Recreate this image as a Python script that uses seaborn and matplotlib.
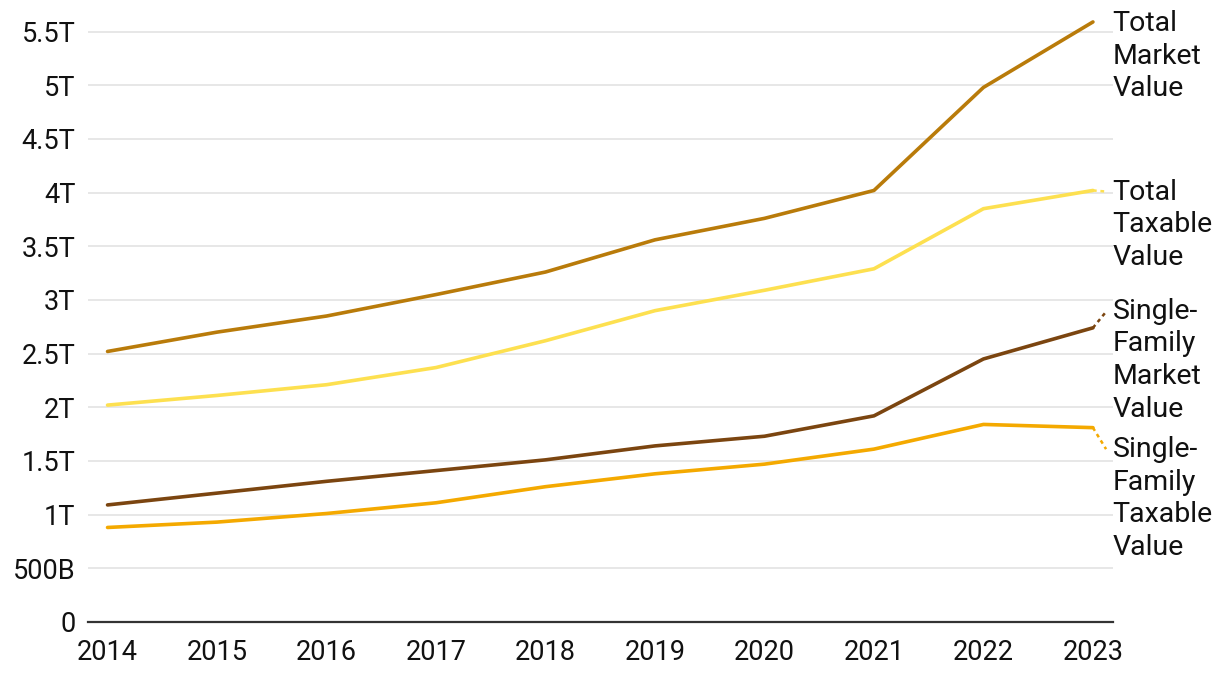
import numpy as np
import pandas as pd
import matplotlib
matplotlib.use("Agg")
import matplotlib.pyplot as plt
import seaborn as sns

# Data (trillions of dollars)
years = [2014, 2015, 2016, 2017, 2018, 2019, 2020, 2021, 2022, 2023]
total_market = [2.52, 2.70, 2.85, 3.05, 3.26, 3.56, 3.76, 4.02, 4.98, 5.59]
total_taxable = [2.02, 2.11, 2.21, 2.37, 2.62, 2.90, 3.09, 3.29, 3.85, 4.02]
sf_market = [1.09, 1.20, 1.31, 1.41, 1.51, 1.64, 1.73, 1.92, 2.45, 2.74]
sf_taxable = [0.88, 0.93, 1.01, 1.11, 1.26, 1.38, 1.47, 1.61, 1.84, 1.81]

series_names = ["Total Market Value", "Total Taxable Value",
                "Single-Family Market Value", "Single-Family Taxable Value"]
label_texts = ["Total\nMarket\nValue", "Total\nTaxable\nValue",
               "Single-\nFamily\nMarket\nValue", "Single-\nFamily\nTaxable\nValue"]
colors = ["#b97b0a", "#fde050", "#7b4510", "#f4a900"]

yticks = [0, 0.5, 1, 1.5, 2, 2.5, 3, 3.5, 4, 4.5, 5, 5.5]
ytick_labels = ["0", "500B", "1T", "1.5T", "2T", "2.5T", "3T", "3.5T", "4T", "4.5T", "5T", "5.5T"]

df = pd.DataFrame({
    "year": years * 4,
    "value": total_market + total_taxable + sf_market + sf_taxable,
    "series": sum([[n] * len(years) for n in series_names], []),
})

sns.set_style("white")
plt.rcParams["font.family"] = ["Roboto", "DejaVu Sans"]
plt.rcParams["text.color"] = "#111111"
plt.rcParams["xtick.color"] = "#111111"
plt.rcParams["ytick.color"] = "#111111"

fig = plt.figure(figsize=(12.2, 6.76), dpi=100)
ax = fig.add_axes([0.072, 0.08, 0.84, 0.905])

sns.lineplot(data=df, x="year", y="value", hue="series", hue_order=series_names,
             palette=colors, linewidth=2.6, legend=False, ax=ax)

ax.set_xlim(2013.82, 2023.18)
ax.set_ylim(0, 5.7)
ax.set_xticks(years)
ax.set_xticklabels([str(y) for y in years], fontsize=19.5)
ax.set_yticks(yticks)
ax.set_yticklabels(ytick_labels, fontsize=19.5)
ax.tick_params(axis="x", length=0, pad=12)
ax.tick_params(axis="y", length=0, pad=9)
ax.grid(axis="y", color="#e3e3e3", linewidth=1.2)
ax.set_axisbelow(True)
for s in ["top", "right", "left"]:
    ax.spines[s].set_visible(False)
ax.spines["bottom"].set_color("#333333")
ax.spines["bottom"].set_linewidth(1.6)
ax.set_xlabel("")
ax.set_ylabel("")

# End labels with small dotted leaders
label_centers = [5.27, 3.70, 2.44, 1.15]
first_lines = [5.59, 4.01, 2.89, 1.61]
ends = [total_market[-1], total_taxable[-1], sf_market[-1], sf_taxable[-1]]
for txt, yc, yf, ye, c in zip(label_texts, label_centers, first_lines, ends, colors):
    ax.text(2023.18, yc, txt, fontsize=20.5, va="center", ha="left",
            linespacing=1.27, clip_on=False)
    if abs(yf - ye) > 0.005:
        ax.plot([years[-1], 2023.12], [ye, yf], color=c, linestyle=(0, (1.5, 1.5)),
                linewidth=1.8, clip_on=False)

fig.savefig("out.png", dpi=100)
